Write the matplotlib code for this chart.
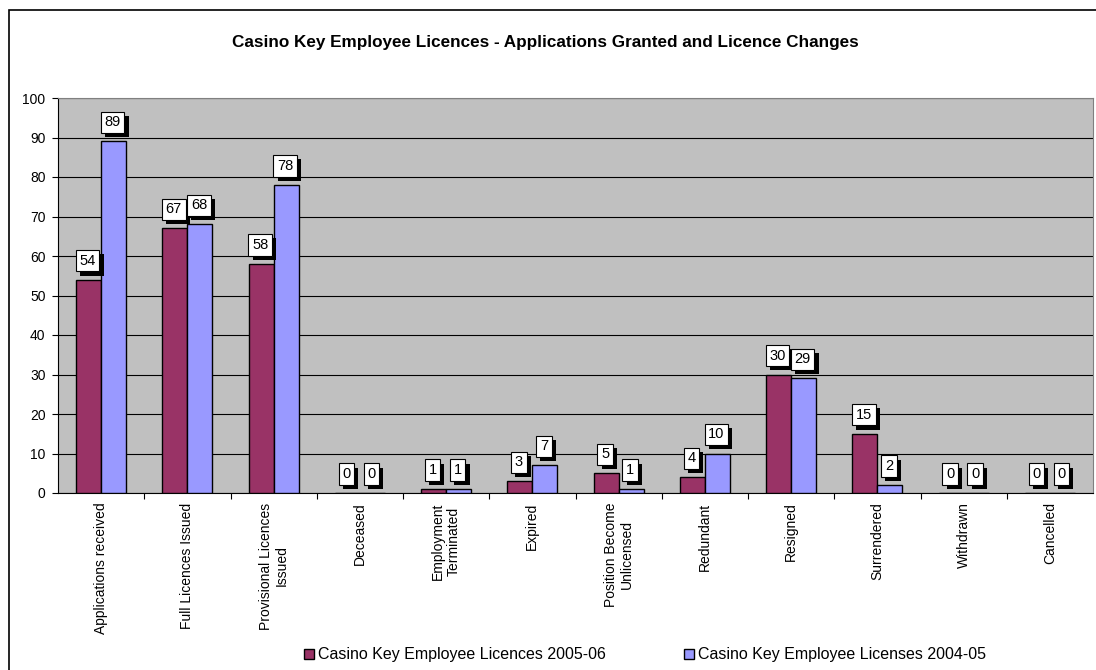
import numpy as np
import matplotlib.pyplot as plt
import matplotlib.patheffects as pe
from matplotlib.patches import Rectangle

plt.rcParams['font.family'] = ['Liberation Sans', 'DejaVu Sans']

categories = ['Applications received', 'Full Licences Issued', 'Provisional Licences\nIssued',
              'Deceased', 'Employment\nTerminated', 'Expired', 'Position Become\nUnlicensed',
              'Redundant', 'Resigned', 'Surrendered', 'Withdrawn', 'Cancelled']
licences_2005_06 = [54, 67, 58, 0, 1, 3, 5, 4, 30, 15, 0, 0]
licenses_2004_05 = [89, 68, 78, 0, 1, 7, 1, 10, 29, 2, 0, 0]
series_names = ['Casino Key Employee Licences 2005-06', 'Casino Key Employee Licenses 2004-05']
colors = ['#993366', '#9999FF']

fig = plt.figure(figsize=(10.96, 6.70), dpi=100)
ax = fig.add_axes([58 / 1096, 1 - 493 / 670, 1035 / 1096, 395 / 670])

# outer chart border (runs off the right and bottom edges)
fig.patches.append(Rectangle((9 / 1096, -0.1), 1.2, 1 - 10 / 670 + 0.1, transform=fig.transFigure,
                             fill=False, edgecolor='black', linewidth=1.2))

x = np.arange(len(categories))
w = 0.29
bars = []
for i, (vals, c) in enumerate(zip([licences_2005_06, licenses_2004_05], colors)):
    b = ax.bar(x + (i - 0.5) * w, vals, w, color=c, edgecolor='black', linewidth=1.0,
               label=series_names[i], zorder=3)
    bars.append(b)

# boxed value labels with a drop shadow
for b in bars:
    for rect in b:
        v = rect.get_height()
        t = ax.annotate(f'{int(v)}', (rect.get_x() + rect.get_width() / 2, v),
                        xytext=(-1, 19), textcoords='offset pixels',
                        ha='center', va='center', fontsize=10.5, zorder=5,
                        bbox=dict(boxstyle='square,pad=0.25', facecolor='white',
                                  edgecolor='black', linewidth=0.8))
        t.get_bbox_patch().set_path_effects([
            pe.SimplePatchShadow(offset=(3, -3), shadow_rgbFace='black', alpha=1.0),
            pe.Normal()])

ax.set_facecolor('#C0C0C0')
ax.set_xlim(-0.5, len(categories) - 0.5)
ax.set_ylim(0, 100)
ax.set_yticks(range(0, 101, 10))
ax.yaxis.grid(True, color='black', linewidth=0.8, zorder=0)
ax.set_axisbelow(True)
ax.tick_params(axis='y', labelsize=10, length=4, direction='out', pad=5)

# category ticks sit between the groups
ax.set_xticks(np.arange(0.5, len(categories) - 0.5, 1.0))
ax.set_xticklabels([])
ax.tick_params(axis='x', length=4, direction='out')
for xi, name in zip(x, categories):
    ax.text(xi, -2.4, name, rotation=90, ha='center', va='top', fontsize=10,
            multialignment='center', transform=ax.transData)

for s in ['top', 'right']:
    ax.spines[s].set_color('#808080')
for s in ['left', 'bottom']:
    ax.spines[s].set_color('black')

fig.text(545 / 1096, 1 - 42 / 670, 'Casino Key Employee Licences - Applications Granted and Licence Changes',
         ha='center', va='center', fontsize=12.3, fontweight='bold')

fig.legend(loc='center', bbox_to_anchor=(645 / 1096, 1 - 655 / 670), ncol=2, frameon=False,
           fontsize=11.5, handlelength=0.62, handleheight=0.62, handletextpad=0.25, columnspacing=4.9,
           borderaxespad=0, borderpad=0)

fig.savefig('out.png', dpi=100)
